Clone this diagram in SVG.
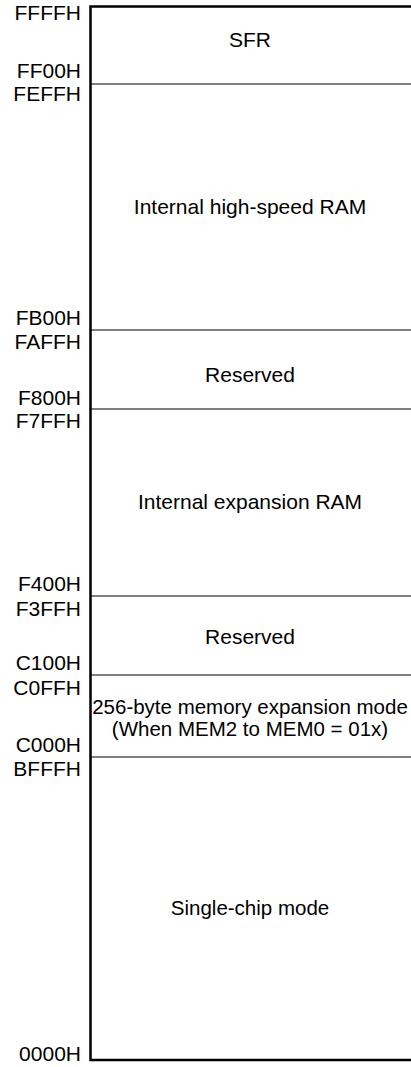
<svg xmlns="http://www.w3.org/2000/svg" width="411" height="1067" viewBox="0 0 411 1067">
<style>
.addr{font-family:"Liberation Sans",Arial,sans-serif;font-size:21px;fill:#000;text-anchor:end}
.lbl{font-family:"Liberation Sans",Arial,sans-serif;font-size:21px;fill:#000;text-anchor:middle}
.sm{font-size:20.5px}
.div{stroke:#000;stroke-width:1.2;fill:none}
.frame{stroke:#000;stroke-width:2.5;fill:none}
</style>
<rect width="411" height="1067" fill="#fff"/>
<g id="connectors">
<path class="frame" d="M411,6.5 H90.5 V1060 H411"/>
<line class="div" x1="91" y1="84" x2="411" y2="84"/>
<line class="div" x1="91" y1="330" x2="411" y2="330"/>
<line class="div" x1="91" y1="409" x2="411" y2="409"/>
<line class="div" x1="91" y1="596" x2="411" y2="596"/>
<line class="div" x1="91" y1="675" x2="411" y2="675"/>
<line class="div" x1="91" y1="757" x2="411" y2="757"/>
</g>
<g id="addresses">
<text class="addr" x="81" y="20">FFFFH</text>
<text class="addr" x="81" y="78">FF00H</text>
<text class="addr" x="81" y="101">FEFFH</text>
<text class="addr" x="81" y="325">FB00H</text>
<text class="addr" x="81" y="349">FAFFH</text>
<text class="addr" x="81" y="405">F800H</text>
<text class="addr" x="81" y="428">F7FFH</text>
<text class="addr" x="81" y="591">F400H</text>
<text class="addr" x="81" y="616">F3FFH</text>
<text class="addr" x="81" y="670">C100H</text>
<text class="addr" x="81" y="695">C0FFH</text>
<text class="addr" x="81" y="752">C000H</text>
<text class="addr" x="81" y="776">BFFFH</text>
<text class="addr" x="81" y="1061">0000H</text>
</g>
<g id="sfr"><text class="lbl" x="250" y="47">SFR</text></g>
<g id="hsram"><text class="lbl" x="250" y="214">Internal high-speed RAM</text></g>
<g id="reserved1"><text class="lbl" x="250" y="382">Reserved</text></g>
<g id="exram"><text class="lbl" x="250" y="509">Internal expansion RAM</text></g>
<g id="reserved2"><text class="lbl" x="250" y="644">Reserved</text></g>
<g id="memexp"><text class="lbl sm" x="250" y="714">256-byte memory expansion mode</text><text class="lbl sm" x="250" y="736">(When MEM2 to MEM0 = 01x)</text></g>
<g id="singlechip"><text class="lbl sm" x="250" y="915">Single-chip mode</text></g>
</svg>
